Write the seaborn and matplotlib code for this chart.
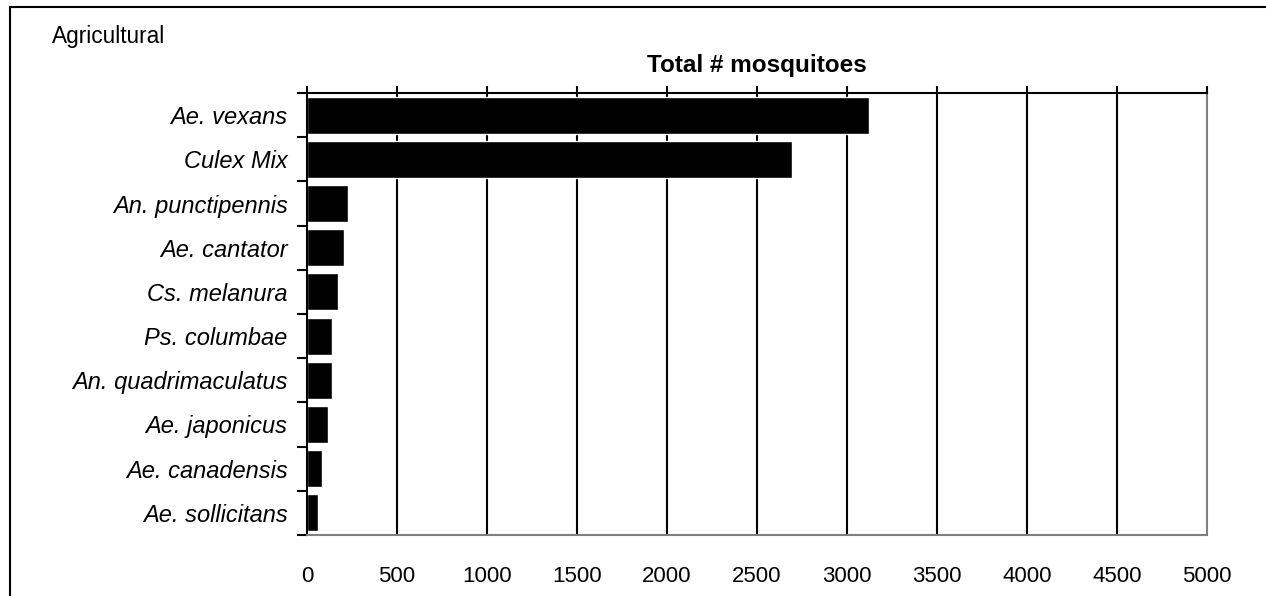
import pandas as pd
import seaborn as sns
import matplotlib.pyplot as plt
from matplotlib.patches import Rectangle

# --- data ---
species = ["Ae. vexans", "Culex Mix", "An. punctipennis", "Ae. cantator",
           "Cs. melanura", "Ps. columbae", "An. quadrimaculatus",
           "Ae. japonicus", "Ae. canadensis", "Ae. sollicitans"]
totals = [3120, 2695, 228, 205, 172, 140, 140, 117, 84, 62]
x_ticks = [0, 500, 1000, 1500, 2000, 2500, 3000, 3500, 4000, 4500, 5000]

df = pd.DataFrame({"species": species, "total": totals})

sns.set_theme(style="white")
plt.rcParams['font.family'] = ['Liberation Sans', 'DejaVu Sans']
plt.rcParams['text.color'] = 'black'
plt.rcParams['xtick.labelcolor'] = 'black'
plt.rcParams['ytick.labelcolor'] = 'black'

fig = plt.figure(figsize=(12.66, 5.96), dpi=100)
ax = fig.add_axes([307 / 1266, 1 - 535 / 596, 900 / 1266, 442 / 596])

# gridlines behind bars
for v in x_ticks[1:-1]:
    ax.axvline(v, color="black", lw=1.5, zorder=0)

sns.barplot(data=df, x="total", y="species", orient="h", color="black",
            saturation=1, width=0.84, ax=ax, zorder=2)

ax.set_xlim(0, 5000)
ax.set_ylim(len(species) - 0.5, -0.5)
ax.set_xticks(x_ticks)
ax.set_xticklabels([str(v) for v in x_ticks], fontsize=16)
ax.tick_params(axis="x", top=True, bottom=False, labeltop=False, labelbottom=True,
               direction="out", length=5, width=1.5, color="black", pad=0)
for lbl in ax.get_xticklabels():
    lbl.set_y(-0.055)

# y: ticks between categories, labels at centres
ax.set_yticks([i - 0.5 for i in range(len(species) + 1)])
ax.set_yticklabels([])
ax.set_yticks(range(len(species)), minor=True)
ax.set_yticklabels(species, minor=True, fontsize=17, style="italic")
ax.tick_params(axis="y", which="major", left=True, direction="out",
               length=7, width=1.5, color="black")
ax.tick_params(axis="y", which="minor", left=False, length=0, pad=14)

ax.set_xlabel("")
ax.set_ylabel("")
ax.set_title("Total # mosquitoes", fontsize=17.5, fontweight="bold", pad=15)

for side in ["top", "left"]:
    ax.spines[side].set_color("black")
    ax.spines[side].set_linewidth(1.5)
for side in ["bottom", "right"]:
    ax.spines[side].set_color("#808080")
    ax.spines[side].set_linewidth(1.5)
    ax.spines[side].set_visible(True)

fig.text(52 / 1266, 1 - 37 / 596, "Agricultural", fontsize=16.3, va="center", ha="left")

# outer chart frame
fig.patches.append(Rectangle((10 / 1266, -0.05), 1.1, 1 - 7 / 596 + 0.05,
                             transform=fig.transFigure, fill=False,
                             edgecolor="black", lw=1.5))

fig.savefig("out.png", dpi=100)
